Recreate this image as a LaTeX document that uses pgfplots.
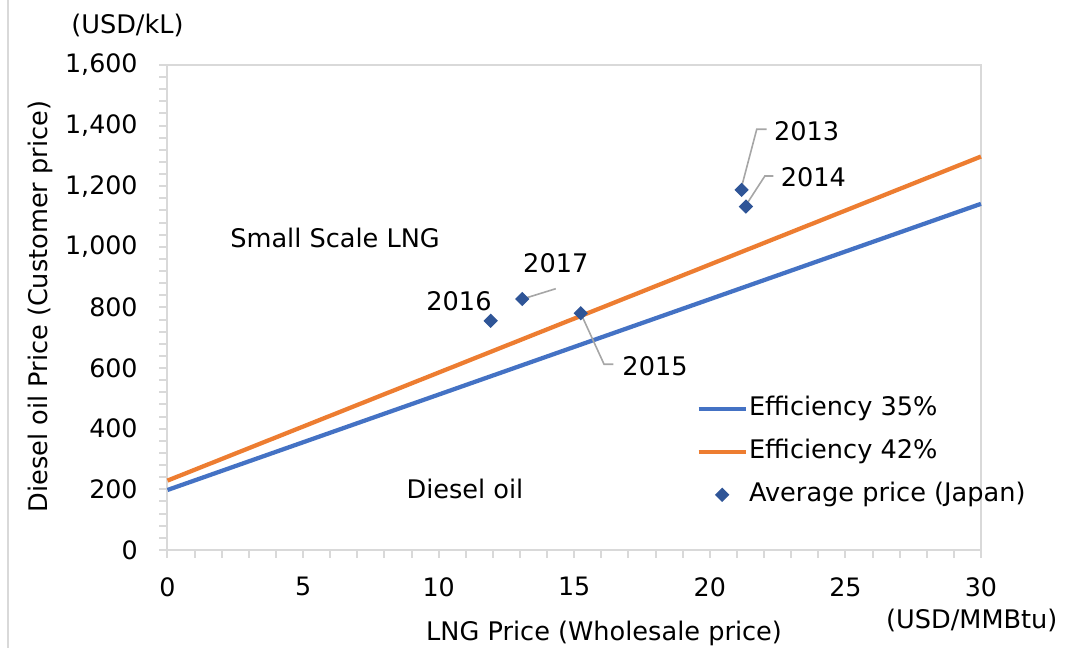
\documentclass[border=0pt]{standalone}
\usepackage{pgfplots}
\pgfplotsset{compat=1.18}
\usepackage{fontspec}
\setmainfont{DejaVu Sans}
\definecolor{cblue}{HTML}{4472C4}
\definecolor{corange}{HTML}{ED7D31}
\definecolor{cmark}{HTML}{2F5597}
\definecolor{cgrid}{HTML}{D9D9D9}
\definecolor{clead}{HTML}{A6A6A6}
\begin{document}
\begin{tikzpicture}[font=\fontsize{9.6}{11}\selectfont]
\useasboundingbox (-62.8125pt,-36.75pt) rectangle (337.3125pt,206.25pt);
\draw[cgrid, line width=0.75pt] (-59.8pt,-36.75pt) -- (-59.8pt,206.25pt);
\begin{axis}[
  scale only axis, width=305.06pt, height=181.875pt,
  xmin=0, xmax=30, ymin=0, ymax=1600,
  xtick={0,5,...,30}, ytick={0,200,...,1600},
  minor x tick num=4, minor y tick num=4,
  tick align=outside, xtick pos=bottom, ytick pos=left,
  major tick length=3pt, minor tick length=3pt,
  axis line style={cgrid, line width=0.75pt},
  every tick/.style={cgrid, line width=0.75pt},
  every minor tick/.style={cgrid, line width=0.75pt},
  /pgf/number format/assume math mode=true,
  /pgf/number format/1000 sep={,},
  tick label style={font=\fontsize{9.5}{11}\selectfont},
  xticklabel style={anchor=north, inner sep=0pt, yshift=-7pt},
  yticklabel style={anchor=east, inner sep=0pt, xshift=-8pt},
  clip=false,
  legend cell align=left,
  legend image code/.code={\draw[mark repeat=2,mark phase=2,#1] plot coordinates {(0pt,0pt) (8.8pt,0pt) (17.6pt,0pt)};},
  legend style={at={(axis cs:19.49,512)}, anchor=north west, draw=none, fill=none, inner sep=0pt,
    row sep=6.15pt, column sep=0pt, font=\fontsize{9.6}{11}\selectfont,
    nodes={inner sep=0.5pt, text height=7pt, text depth=2pt}},
]
\addplot[cblue, line width=1.6pt] coordinates {(0,198) (30,1142)};
\addplot[corange, line width=1.6pt] coordinates {(0,229) (30,1298)};
\addplot[only marks, mark=square*, mark size=1.7pt, mark options={rotate=45, fill=cmark, draw=cmark}]
  coordinates {(21.17,1188) (21.33,1133) (15.24,781) (11.92,756) (13.08,828)};
\legend{Efficiency 35\%, Efficiency 42\%, Average price (Japan)}

\node at (axis cs:-1.475,1732) {(USD/kL)};
\node[rotate=90] at (axis cs:-4.70,803) {Diesel oil Price (Customer price)};
\node at (axis cs:16.10,-273.8) {LNG Price (Wholesale price)};
\node at (axis cs:29.66,-230.9) {(USD/MMBtu)};
\node at (axis cs:6.18,1030) {Small Scale LNG};
\node at (axis cs:10.97,201) {Diesel oil};

\draw[clead, line width=0.6pt] (axis cs:21.17,1197.6) -- (axis cs:21.73,1388) -- (axis cs:22.09,1388);
\draw[clead, line width=0.6pt] (axis cs:21.36,1141.4) -- (axis cs:22.03,1233.8) -- (axis cs:22.34,1233.8);
\draw[clead, line width=0.6pt] (axis cs:15.27,775) -- (axis cs:16.10,612.6) -- (axis cs:16.44,612.6);
\draw[clead, line width=0.6pt] (axis cs:13.18,830.4) -- (axis cs:14.32,862);
\node at (axis cs:23.57,1380) {2013};
\node at (axis cs:23.82,1229.5) {2014};
\node at (axis cs:17.98,608) {2015};
\node at (axis cs:10.75,821.4) {2016};
\node at (axis cs:14.32,945.8) {2017};
\end{axis}
\end{tikzpicture}
\end{document}
